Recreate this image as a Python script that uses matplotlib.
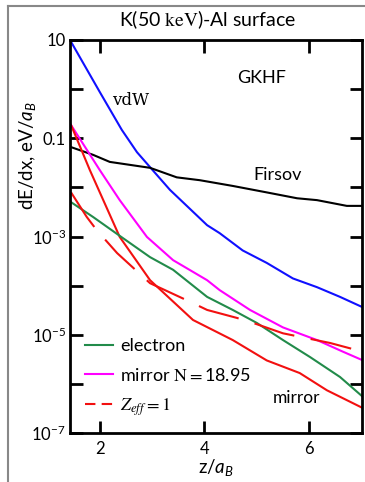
import numpy as np
import matplotlib
matplotlib.use("Agg")
import matplotlib.pyplot as plt
from matplotlib.lines import Line2D
from matplotlib.ticker import FixedLocator, FixedFormatter

plt.rcParams['font.family'] = ['Lato', 'DejaVu Sans']
plt.rcParams['mathtext.fontset'] = 'custom'
plt.rcParams['mathtext.rm'] = 'Lato'
plt.rcParams['mathtext.it'] = 'Lato:italic'
plt.rcParams['mathtext.sf'] = 'Lato'

# curves (z/a_B, dE/dx)
vdw_x = [1.43, 2.0, 2.42, 2.71, 3.01, 3.34, 4.05, 4.29, 4.73, 5.19, 5.69, 6.15, 6.59, 7.03]
vdw_y = [10, 0.87, 0.148, 5.2e-2, 2.24e-2, 8.9e-3, 1.7e-3, 1.17e-3, 5.2e-4, 2.9e-4, 1.4e-4,
         9.3e-5, 5.9e-5, 3.6e-5]

firsov_x = [1.45, 1.87, 2.19, 2.96, 3.47, 3.91, 4.54, 5.19, 5.77, 6.15, 6.72, 7.03]
firsov_y = [6.6e-2, 4.6e-2, 3.3e-2, 2.5e-2, 1.6e-2, 1.4e-2, 1.07e-2, 7.9e-3, 6.0e-3, 5.5e-3, 4.2e-3, 4.2e-3]

mirrorN_x = [1.45, 2.0, 2.38, 2.90, 3.40, 4.05, 4.29, 4.87, 5.50, 6.15, 6.65, 7.03]
mirrorN_y = [0.186, 2.24e-2, 5.5e-3, 9.8e-4, 3.3e-4, 1.29e-4, 8.1e-5, 3.2e-5, 1.41e-5, 7.8e-6, 4.5e-6, 3.0e-6]

mirror_x = [1.45, 1.81, 2.38, 2.96, 3.78, 4.54, 5.19, 5.82, 6.34, 7.03]
mirror_y = [0.186, 2.24e-2, 9.8e-4, 1.29e-4, 2.0e-5, 7.8e-6, 3.0e-6, 1.66e-6, 7.4e-7, 3.2e-7]

electron_x = [1.45, 1.87, 2.44, 2.96, 3.40, 4.05, 4.54, 5.00, 5.50, 6.02, 6.59, 7.03]
electron_y = [5.0e-3, 2.5e-3, 9.3e-4, 3.8e-4, 2.1e-4, 5.9e-5, 3.2e-5, 1.74e-5, 7.8e-6, 3.5e-6, 1.38e-6, 5.4e-7]

zeff_x = [1.45, 1.75, 1.94, 2.33, 2.96, 3.78, 4.05, 4.62, 4.93, 5.50, 6.40, 7.03]
zeff_y = [7.9e-3, 2.5e-3, 1.35e-3, 4.6e-4, 1.12e-4, 4.4e-5, 3.2e-5, 2.2e-5, 1.74e-5, 1.07e-5, 6.8e-6, 4.5e-6]

y_ticks = [1e1, 1e0, 1e-1, 1e-2, 1e-3, 1e-4, 1e-5, 1e-6, 1e-7]
y_labels = ['10', '', '0.1', '', r'$10^{-3}$', '', r'$10^{-5}$', '', r'$10^{-7}$']
x_ticks = [2, 4, 6]

fig = plt.figure(figsize=(3.65, 4.82), dpi=100)
ax = fig.add_axes([70 / 365, 49 / 482, 292 / 365, 393 / 482])

lw = 1.5
ax.plot(vdw_x, vdw_y, color='#1010ff', lw=lw)
ax.plot(firsov_x, firsov_y, color='black', lw=lw)
ax.plot(mirrorN_x, mirrorN_y, color='#ff00ff', lw=lw)
ax.plot(mirror_x, mirror_y, color='#f21010', lw=lw)
ax.plot(electron_x, electron_y, color='#228b4a', lw=lw)
ax.plot(zeff_x, zeff_y, color='#f21010', lw=lw, dashes=(20, 8))

ax.set_yscale('log')
ax.set_xlim(1.43, 7.01)
ax.set_ylim(1e-7, 10)
ax.yaxis.set_major_locator(FixedLocator(y_ticks))
ax.yaxis.set_major_formatter(FixedFormatter(y_labels))
ax.yaxis.set_minor_locator(FixedLocator([]))
ax.set_xticks(x_ticks)
ax.set_xticklabels([str(t) for t in x_ticks])
ax.tick_params(direction='in', length=9, width=2, top=True, right=True,
               labelsize=12, pad=3)
ax.tick_params(axis='x', pad=6)
for s in ax.spines.values():
    s.set_linewidth(2)

ax.set_xlabel(r'z/$\mathit{a_B}$', fontsize=13.5, labelpad=0)
ax.set_ylabel(r'dE/dx, eV/$\mathit{a_B}$', fontsize=13.5)
ax.yaxis.set_label_coords(-0.108, 0.705)

ax.text(5.10, 1.7, 'GKHF', fontsize=13, ha='center', va='center')
ax.text(2.59, 0.6, 'vdW', fontsize=12, ha='center', va='center', family='DejaVu Serif')
ax.text(5.40, 0.0178, 'Firsov', fontsize=13, ha='center', va='center')
ax.text(5.75, 5.1e-7, 'mirror', fontsize=12.5, ha='center', va='center')

t = fig.text(208 / 365, 1 - 20 / 482, r'K(50 $\mathrm{keV}$)-Al surface', fontsize=14,
             ha='center', va='center')
t.set_math_fontfamily('stix')

handles = [Line2D([], [], color='#228b4a', lw=lw),
           Line2D([], [], color='#ff00ff', lw=lw),
           Line2D([], [], color='#f21010', lw=lw, dashes=(5, 3))]
labels = ['electron', r'mirror $\mathrm{N} = $18.95', r'$Z_{eff} = 1$']
leg = ax.legend(handles, labels, loc='upper left', bbox_to_anchor=(0.05, 0.242),
                frameon=False, fontsize=13, handlelength=1.55, handletextpad=0.4,
                borderpad=0, borderaxespad=0, labelspacing=0.7)
leg.get_texts()[1].set_math_fontfamily('stix')
leg.get_texts()[2].set_math_fontfamily('stix')

# grey frame of the original picture
fig.add_artist(Line2D([8 / 365, 8 / 365], [0, 1 - 6 / 482], color='#888888', lw=1.5))
fig.add_artist(Line2D([8 / 365, 1], [1 - 6 / 482, 1 - 6 / 482], color='#888888', lw=1.5))

fig.savefig('out.png', dpi=100)
